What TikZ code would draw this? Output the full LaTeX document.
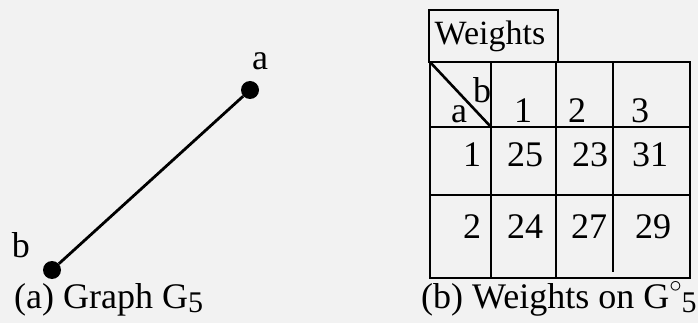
\documentclass[tikz,border=0pt]{standalone}
\usepackage{fontspec}
\setmainfont{Liberation Serif}
\begin{document}
\begin{tikzpicture}[x=1pt,y=-1pt,
  txt/.style={inner sep=0pt,anchor=base,font=\fontsize{36}{40}\selectfont},
  lbl/.style={inner sep=0pt,anchor=base west,font=\fontsize{36}{40}\selectfont},
  vertex/.style={circle,fill=black,inner sep=0pt,minimum size=18pt},
  edge/.style={line width=2.8pt},
  grid/.style={line width=2.6pt}]
\useasboundingbox (0,0) rectangle (698,323);
\fill[white!90!gray] (0,0) rectangle (698,323);
% graph
\node[vertex] (a) at (250,90) {};
\node[vertex] (b) at (52,270) {};
\draw[edge] (a) -- (b);
\node[txt] (la) at (260,70) {a};
\node[txt] (lb) at (21,257) {b};
\node[lbl] (capa) at (14,308) {(a) Graph G\raisebox{-0.12em}{\fontsize{30}{32}\selectfont 5}};
% weights table
\draw[grid] (429,10) rectangle (558,62);
\node[txt,font=\fontsize{34}{40}\selectfont] (wt) at (490,45) {Weights};
\draw[grid] (430,62) rectangle (690,278);
\draw[grid] (430,127) -- (690,127);
\draw[grid] (430,195) -- (690,195);
\draw[grid] (491,62) -- (491,278);
\draw[grid] (556,62) -- (556,278);
\draw[grid] (613,62) -- (613,272);
\draw[grid] (430,62) -- (491,127);
\node[txt] (hb) at (482,103) {b};
\node[txt] (ha) at (459,123) {a};
\node[txt] (h1) at (523,123) {1};
\node[txt] (h2) at (577,123) {2};
\node[txt] (h3) at (640,123) {3};
\node[txt] (r1) at (472,167) {1};
\node[txt] (c11) at (525,167) {25};
\node[txt] (c12) at (590,167) {23};
\node[txt] (c13) at (650,167) {31};
\node[txt] (r2) at (472,238) {2};
\node[txt] (c21) at (525,238) {24};
\node[txt] (c22) at (589,238) {27};
\node[txt] (c23) at (653,238) {29};
\node[lbl] (capb) at (421,308) {(b) Weights on G\raisebox{0.42em}{\fontsize{24}{26}\selectfont $\circ$}\raisebox{-0.12em}{\fontsize{30}{32}\selectfont 5}};
\end{tikzpicture}
\end{document}
